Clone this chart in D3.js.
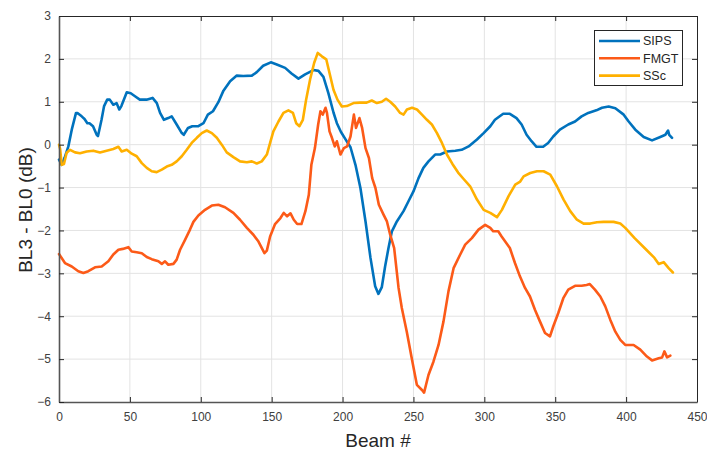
<!DOCTYPE html>
<html>
<head>
<meta charset="utf-8">
<script src="https://cdn.jsdelivr.net/npm/d3@7"></script>
<style>
  html, body { margin: 0; padding: 0; background: #fff; }
  svg { display: block; font-family: "Liberation Sans", Arial, sans-serif; }
</style>
</head>
<body>
<svg id="chart" width="707" height="452"></svg>
<script>
// ---- data (beam #, BL3 - BL0 in dB) ----
const seriesNames = ["SIPS", "FMGT", "SSc"];
const seriesColors = ["#0072BD", "#FC5A18", "#FFB000"];
const xTicks = [0, 50, 100, 150, 200, 250, 300, 350, 400, 450];
const yTicks = [-6, -5, -4, -3, -2, -1, 0, 1, 2, 3];

const sips = [[0,-0.35],[1.9,-0.47],[4,-0.3],[6.6,-0.04],[9,0.35],[12,0.74],[13,0.74],[16,0.66],[18,0.6],[20,0.5],[21.5,0.5],[24,0.43],[26.6,0.23],[27.5,0.2],[30,0.58],[31.8,0.9],[34,1.05],[35.8,1.05],[38.3,0.93],[40.6,0.97],[42.5,0.82],[44,0.9],[47.8,1.22],[50.6,1.2],[53.6,1.13],[57,1.05],[61.7,1.05],[66,1.09],[69,0.97],[71.3,0.74],[74,0.58],[77,0.62],[79.5,0.66],[83,0.47],[86.6,0.27],[88,0.23],[91,0.39],[94,0.43],[98.3,0.43],[101.9,0.5],[105,0.7],[108.6,0.78],[112.4,0.99],[116,1.26],[120.7,1.48],[125.4,1.61],[130,1.6],[136,1.61],[139.5,1.69],[144,1.84],[149.4,1.92],[153.6,1.87],[159.5,1.79],[164,1.66],[168.9,1.54],[173.6,1.64],[179.5,1.74],[183,1.72],[186.5,1.58],[190,1.2],[193.6,0.75],[196,0.5],[198.8,0.3],[202,0.13],[205.6,-0.06],[209.1,-0.47],[212.6,-1.01],[216.2,-1.79],[219.7,-2.64],[223,-3.3],[225.3,-3.48],[227.7,-3.32],[230,-2.84],[232.4,-2.41],[234.8,-2.02],[238.3,-1.79],[243,-1.55],[246.5,-1.32],[250,-1.09],[253.6,-0.78],[257,-0.54],[260.6,-0.39],[265.3,-0.23],[268.9,-0.23],[273.6,-0.16],[279.5,-0.14],[284,-0.12],[288.9,-0.04],[294.8,0.12],[299.5,0.27],[304.2,0.43],[307.5,0.58],[313.3,0.72],[318,0.72],[322.7,0.62],[326.3,0.47],[329.8,0.23],[333.3,0.08],[336.8,-0.05],[341.5,-0.05],[345,0.04],[348.6,0.19],[353.3,0.35],[359.2,0.47],[364,0.54],[368.6,0.66],[373.3,0.74],[379,0.8],[383,0.86],[387.7,0.89],[392.4,0.85],[398.3,0.7],[401.8,0.54],[406.5,0.35],[412.4,0.18],[418.3,0.1],[424.1,0.18],[427.7,0.23],[429.6,0.33],[430.4,0.23],[432.4,0.16]];

const fmgt = [[0,-2.55],[4.2,-2.76],[9,-2.84],[13.6,-2.95],[17.2,-2.99],[20.7,-2.95],[25.4,-2.86],[30.1,-2.84],[34.8,-2.72],[38.3,-2.56],[41.9,-2.45],[45,-2.43],[48.9,-2.39],[51.3,-2.49],[54.8,-2.51],[58.4,-2.53],[61.9,-2.62],[65.4,-2.67],[70.1,-2.72],[72.5,-2.78],[74.8,-2.72],[77.1,-2.8],[80.7,-2.78],[83,-2.68],[85.4,-2.45],[88.9,-2.22],[92.4,-1.98],[94.8,-1.8],[98.3,-1.65],[103,-1.52],[107.8,-1.42],[112.4,-1.4],[117.1,-1.46],[123,-1.59],[127.7,-1.75],[132.5,-1.94],[137.1,-2.1],[140.7,-2.26],[144.9,-2.53],[146.6,-2.47],[148.9,-2.14],[152.4,-1.85],[156.2,-1.71],[158.5,-1.59],[160.9,-1.67],[163.3,-1.6],[165.6,-1.75],[168,-1.85],[171,-1.85],[173.8,-1.55],[176.2,-1.17],[178,-0.47],[180.5,-0.08],[182.8,0.47],[184.4,0.78],[186,0.7],[188,0.86],[189,0.74],[190.8,0.31],[192.5,0.16],[194.5,-0.04],[196,0.08],[198.5,-0.23],[200.9,-0.08],[203.2,-0.04],[205.6,0.19],[208,0.7],[209.5,0.39],[211.9,0.62],[213.8,0.39],[216.2,-0.08],[218.6,-0.31],[220.9,-0.78],[223.2,-1.01],[225.6,-1.4],[228.9,-1.63],[231.3,-1.79],[233.6,-2.1],[236.4,-2.41],[239.5,-3.34],[241.8,-3.81],[245.3,-4.36],[248.9,-5.0],[252.4,-5.6],[256,-5.72],[257.5,-5.78],[260.6,-5.37],[264.1,-5.06],[267.7,-4.67],[271.2,-4.12],[274.7,-3.42],[278.3,-2.88],[283,-2.56],[286.5,-2.33],[291.2,-2.18],[295.9,-1.98],[300.6,-1.87],[304.2,-1.94],[306.3,-2.02],[309.8,-2.02],[312.2,-2.14],[318,-2.41],[321.6,-2.76],[325.1,-3.07],[328.7,-3.34],[332.2,-3.54],[335.7,-3.85],[339.2,-4.12],[342.8,-4.39],[346.3,-4.47],[348.6,-4.24],[352.1,-3.93],[355.7,-3.58],[359.2,-3.38],[364,-3.29],[368.6,-3.29],[372.1,-3.27],[374.4,-3.25],[378,-3.38],[381.8,-3.54],[385.3,-3.77],[388.8,-4.08],[392.4,-4.36],[395.9,-4.55],[399.4,-4.67],[405.3,-4.67],[410,-4.78],[414.7,-4.94],[418.3,-5.03],[423,-4.98],[425.4,-4.96],[427,-4.82],[428.9,-4.96],[431.2,-4.92]];

const ssc = [[0,0.0],[0.8,-0.1],[1.9,-0.47],[3.5,-0.45],[5.4,-0.19],[7.8,-0.12],[11.3,-0.18],[14.8,-0.2],[19.5,-0.16],[24.2,-0.14],[28.9,-0.18],[33.6,-0.14],[38.3,-0.1],[41.9,-0.05],[44.2,-0.16],[47.8,-0.12],[51.3,-0.21],[54.8,-0.27],[58.4,-0.43],[61.9,-0.54],[65.4,-0.62],[68.9,-0.64],[72.5,-0.58],[76,-0.51],[79.5,-0.47],[83,-0.39],[86.6,-0.27],[90.1,-0.12],[93.6,0.04],[97.2,0.16],[100.7,0.27],[104.2,0.33],[107.8,0.27],[111.3,0.16],[114.8,0.0],[118.3,-0.18],[123,-0.29],[127.7,-0.39],[132.5,-0.41],[136,-0.39],[139.5,-0.44],[143,-0.39],[146.6,-0.23],[148.9,0.04],[151.2,0.31],[154.8,0.54],[158.3,0.74],[161.8,0.8],[165,0.74],[167.3,0.5],[169.6,0.43],[172,0.58],[174.3,1.05],[177.1,1.52],[180,1.91],[182.5,2.14],[185.4,2.06],[188.5,1.99],[190.8,1.67],[193.6,1.28],[196.4,1.05],[199.5,0.89],[203,0.9],[207.7,0.97],[212.4,0.98],[217,0.98],[220.6,1.03],[224.2,0.97],[227.7,1.0],[230.7,1.07],[233.6,1.0],[237.1,0.89],[240.6,0.74],[243,0.7],[245.4,0.82],[249,0.86],[252.5,0.82],[256,0.7],[259.5,0.58],[263,0.47],[266.6,0.27],[270.1,0.04],[273.6,-0.23],[277.5,-0.45],[281.5,-0.65],[285.4,-0.8],[290,-0.97],[294.8,-1.28],[299.5,-1.52],[304.2,-1.59],[308.9,-1.69],[312.4,-1.52],[317.1,-1.2],[321.8,-0.93],[325.3,-0.86],[327.7,-0.74],[332.4,-0.66],[337.1,-0.62],[341.8,-0.62],[346.5,-0.7],[351.2,-0.97],[355.9,-1.28],[360.6,-1.55],[365.3,-1.75],[370,-1.84],[374.7,-1.84],[379.4,-1.81],[384.1,-1.8],[391.2,-1.8],[395.9,-1.84],[399.4,-1.94],[406,-2.18],[413,-2.41],[420,-2.64],[423,-2.78],[426.5,-2.74],[430,-2.88],[433,-2.98]];

const seriesData = [sips, fmgt, ssc];

// ---- layout ----
const svg = d3.select("#chart");
const L = 59, R = 697, T = 16, B = 402;
const x = d3.scaleLinear().domain([0, 450]).range([L, R]);
const y = d3.scaleLinear().domain([-6, 3]).range([B, T]);
const textColor = "#404040";

// grid
const grid = svg.append("g");
grid.selectAll("line.v").data(xTicks.slice(1, -1)).join("line")
  .attr("x1", d => x(d)).attr("x2", d => x(d)).attr("y1", T).attr("y2", B)
  .attr("stroke", "#e3e3e3").attr("stroke-width", 1);
grid.selectAll("line.h").data(yTicks.slice(1, -1)).join("line")
  .attr("x1", L).attr("x2", R).attr("y1", d => y(d)).attr("y2", d => y(d))
  .attr("stroke", "#e3e3e3").attr("stroke-width", 1);

// lines
const line = d3.line().x(d => x(d[0])).y(d => y(d[1])).curve(d3.curveLinear);
const plot = svg.append("g");
seriesData.forEach((s, i) => {
  plot.append("path").datum(s)
    .attr("d", line)
    .attr("fill", "none")
    .attr("stroke", seriesColors[i])
    .attr("stroke-width", 2.6)
    .attr("stroke-linejoin", "round")
    .attr("stroke-linecap", "round");
});

// axes
const fmt = d3.format("d");
const xAxis = d3.axisBottom(x).tickValues(xTicks).tickFormat(fmt).tickSizeInner(-5).tickSizeOuter(0).tickPadding(10);
const yAxis = d3.axisLeft(y).tickValues(yTicks).tickFormat(fmt).tickSizeInner(-5).tickSizeOuter(0).tickPadding(8);
const xTop = d3.axisTop(x).tickValues(xTicks).tickFormat("").tickSizeInner(-5).tickSizeOuter(0);
const yRight = d3.axisRight(y).tickValues(yTicks).tickFormat("").tickSizeInner(-5).tickSizeOuter(0);

function style(g) {
  g.selectAll(".tick line").attr("stroke", "#262626");
  g.selectAll(".tick text").attr("fill", textColor).style("font-size", "12px")
    .style("font-family", '"Liberation Sans", Arial, sans-serif');
  g.select(".domain").attr("stroke", "#262626");
}
svg.append("g").attr("transform", `translate(0,${T})`).call(xTop).call(style);
svg.append("g").attr("transform", `translate(${R},0)`).call(yRight).call(style);
const gx = svg.append("g").attr("transform", `translate(0,${B})`).call(xAxis).call(style);
const gy = svg.append("g").attr("transform", `translate(${L},0)`).call(yAxis).call(style);
gx.select(".domain").attr("stroke", "#555").attr("stroke-width", 1.6);
gy.select(".domain").attr("stroke", "#555").attr("stroke-width", 1.6);
gx.selectAll(".tick text").attr("dy", "0.71em");

// axis titles
svg.append("text").attr("x", 378).attr("y", 447).attr("text-anchor", "middle")
  .attr("fill", "#262626").style("font-size", "19px").text("Beam #");
svg.append("text").attr("transform", "translate(32,210) rotate(-90)")
  .attr("text-anchor", "middle").attr("fill", "#262626").style("font-size", "19px")
  .text("BL3 - BL0 (dB)");

// legend
const lg = svg.append("g");
lg.append("rect").attr("x", 594.5).attr("y", 30.5).attr("width", 88).attr("height", 55)
  .attr("fill", "#fff").attr("stroke", "#262626").attr("stroke-width", 1);
seriesNames.forEach((n, i) => {
  const yy = 41 + i * 17.3;
  lg.append("line").attr("x1", 599).attr("x2", 640).attr("y1", yy).attr("y2", yy)
    .attr("stroke", seriesColors[i]).attr("stroke-width", 2.6);
  lg.append("text").attr("x", 643).attr("y", yy).attr("dy", "0.35em")
    .attr("fill", "#262626").style("font-size", "12.5px").text(n);
});
</script>
</body>
</html>
